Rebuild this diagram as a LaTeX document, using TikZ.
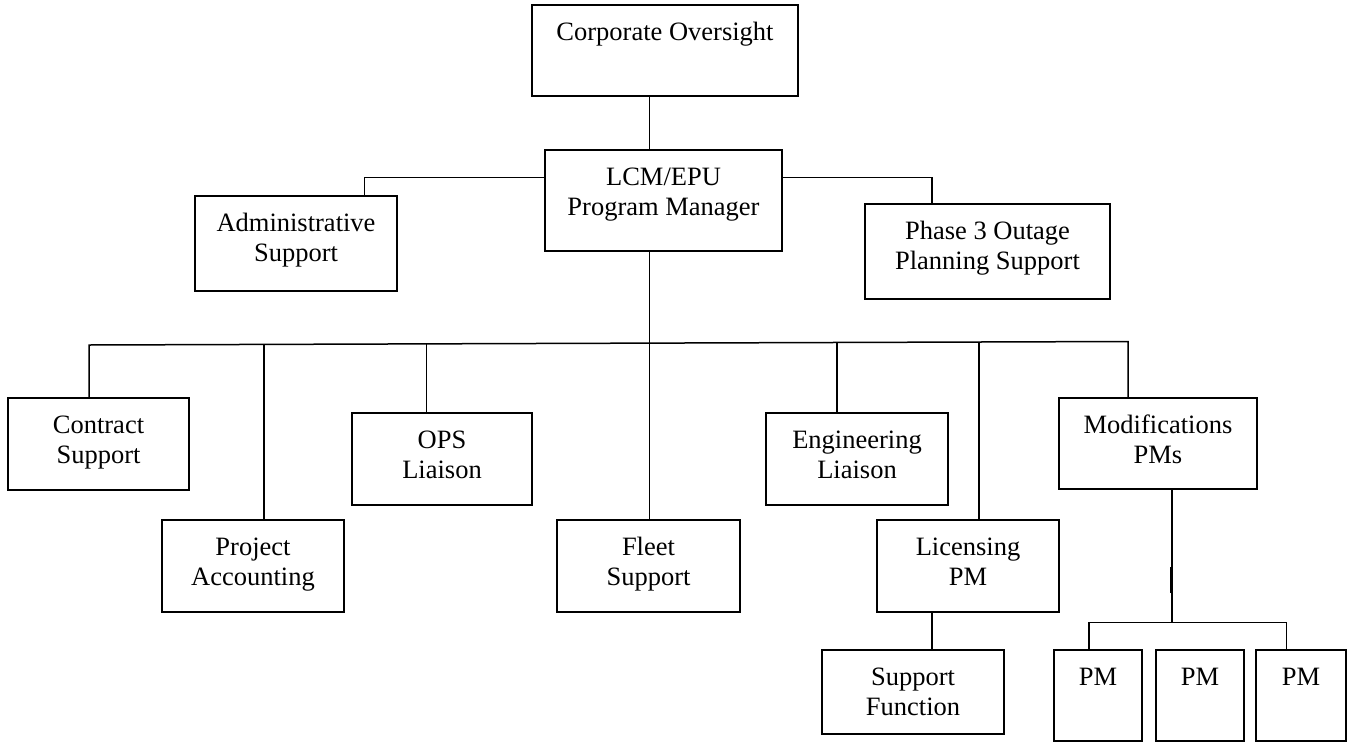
\documentclass[tikz,border=0pt]{standalone}
\usepackage{fontspec}
\setmainfont{Liberation Serif}
\newcommand{\twoline}[2]{\begin{tabular}[t]{@{}c@{}}#1\\#2\end{tabular}}
\newcommand{\orgbox}[6]{%
  \pgfmathsetmacro{\orgW}{#3-#2}%
  \pgfmathsetmacro{\orgD}{#5-#4-35.5}%
  \node[boxst, anchor=north west, minimum width=\orgW pt, text height=35.5pt, text depth=\orgD pt] (#1) at (#2,#4) {#6};}
\tikzset{
  boxst/.style={draw=black, line width=1.8pt, rectangle, inner sep=0pt, outer sep=0pt,
    font=\fontsize{26.5}{30}\selectfont, fill=white},
  conn/.style={draw=black, line width=1.5pt},
}
\begin{document}
\begin{tikzpicture}[x=1pt,y=-1pt]
\useasboundingbox (0,0) rectangle (1349,742);
% boxes
\orgbox{corp}{532}{798}{5}{96}{Corporate Oversight}
\orgbox{lcm}{545}{782}{150}{251}{\twoline{LCM/EPU}{Program Manager}}
\orgbox{admin}{195}{397}{196}{291}{\twoline{Administrative}{Support}}
\orgbox{phase}{865}{1110}{204}{299}{\twoline{Phase 3 Outage}{Planning Support}}
\orgbox{contract}{8}{189}{398}{490}{\twoline{Contract}{Support}}
\orgbox{projacc}{162}{344}{520}{612}{\twoline{Project}{Accounting}}
\orgbox{ops}{352}{532}{413}{505}{\twoline{OPS}{Liaison}}
\orgbox{fleet}{557}{740}{520}{612}{\twoline{Fleet}{Support}}
\orgbox{eng}{766}{948}{413}{505}{\twoline{Engineering}{Liaison}}
\orgbox{lic}{877}{1059}{520}{612}{\twoline{Licensing}{PM}}
\orgbox{mods}{1059}{1257}{398}{489}{\twoline{Modifications}{PMs}}
\orgbox{supp}{822}{1004}{650}{734}{\twoline{Support}{Function}}
\orgbox{pma}{1054}{1142}{650}{741}{PM}
\orgbox{pmb}{1156}{1244}{650}{741}{PM}
\orgbox{pmc}{1256}{1346}{650}{741}{PM}
% connector coordinates
\coordinate (tx) at (649.5,0);
\coordinate (al) at (364.7,177.7);
\coordinate (pr) at (931.8,177.7);
\coordinate (d1) at (89,345);
\coordinate (d2) at (264,344.4);
\coordinate (d3) at (426.7,343.9);
\coordinate (d5) at (837,342.5);
\coordinate (d6) at (979,342.0);
\coordinate (d7) at (1128,341.5);
\coordinate (ls) at (932,0);
\coordinate (mb) at (1172,622.5);
\coordinate (p1) at (1089,622.5);
\coordinate (p3) at (1286.7,622.5);
% connectors
\draw[conn] (corp.south -| tx) -- (lcm.north -| tx);
\draw[conn] (lcm.west |- al) -| (admin.north -| al);
\draw[conn] (lcm.east |- pr) -| (phase.north -| pr);
\draw[conn] (lcm.south -| tx) -- (fleet.north -| tx);
\draw[conn] (contract.north -| d1) -- (d1) -- (d7) -- (mods.north -| d7);
\draw[conn] (d2) -- (projacc.north -| d2);
\draw[conn] (d3) -- (ops.north -| d3);
\draw[conn] (d5) -- (eng.north -| d5);
\draw[conn] (d6) -- (lic.north -| d6);
\draw[conn] (lic.south -| ls) -- (supp.north -| ls);
\draw[conn] (mods.south -| mb) -- (mb);
\draw[conn, line width=2.4pt] (1170.8,567) -- (1170.8,593);
\draw[conn] (pma.north -| p1) -- (p1) -- (p3) -- (pmc.north -| p3);
\end{tikzpicture}
\end{document}
